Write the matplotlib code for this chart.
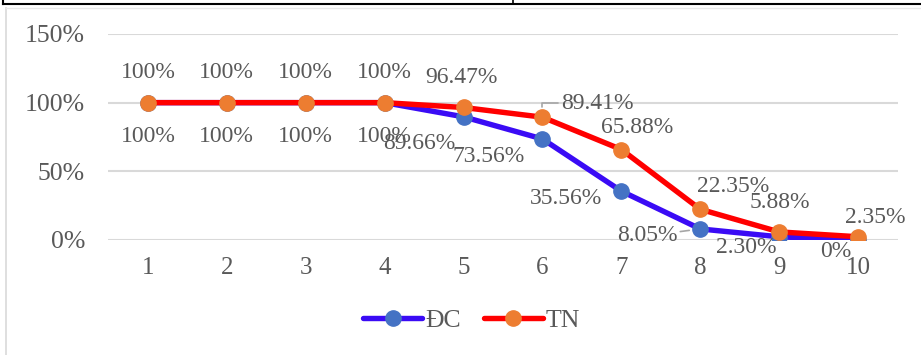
import matplotlib
matplotlib.use("Agg")
import matplotlib.pyplot as plt
from matplotlib.lines import Line2D

# data
lessons = [1, 2, 3, 4, 5, 6, 7, 8, 9, 10]
dc_vals = [100, 100, 100, 100, 89.66, 73.56, 35.56, 8.05, 2.30, 0]
tn_vals = [100, 100, 100, 100, 96.47, 89.41, 65.88, 22.35, 5.88, 2.35]
dc_labels = ["100%", "100%", "100%", "100%", "89.66%", "73.56%", "35.56%", "8.05%", "2.30%", "0%"]
tn_labels = ["100%", "100%", "100%", "100%", "96.47%", "89.41%", "65.88%", "22.35%", "5.88%", "2.35%"]
y_ticks = [0, 50, 100, 150]

# label offsets in pixels (x, y up)
dc_off = [(0, -34)] * 4 + [(-44, -27), (-54, -18), (-55, -7), (-53, -7), (-33, -11), (-22, -12)]
tn_off = [(0, 30)] * 4 + [(-2, 30), (55, 14), (16, 22), (33, 23), (1, 29), (17, 19)]

grey = "#595959"
plt.rcParams["font.family"] = ["Liberation Serif", "DejaVu Serif"]

fig = plt.figure(figsize=(9.21, 3.55), dpi=100)
ax = fig.add_axes([0.1178, 0.324, 0.8567, 0.5803])

ax.plot(lessons, dc_vals, color="#3A0BF5", lw=3.9, marker="o", ms=11,
        mfc="#4472C4", mec="#4472C4", label="ĐC", zorder=3, solid_capstyle="round")
ax.plot(lessons, tn_vals, color="#FF0000", lw=3.9, marker="o", ms=11,
        mfc="#ED7D31", mec="#ED7D31", label="TN", zorder=4, solid_capstyle="round")

for i, x in enumerate(lessons):
    ap = None
    if i == 7:
        ap = dict(arrowstyle="-", color="#a6a6a6", lw=1.2, shrinkA=0, shrinkB=8)
    ax.annotate(dc_labels[i], (x, dc_vals[i]), xytext=dc_off[i], textcoords="offset pixels",
                ha="center", va="center", fontsize=17, color=grey, arrowprops=ap, zorder=5)
for i, x in enumerate(lessons):
    ap = None
    if i == 5:
        ap = dict(arrowstyle="-", color="#a6a6a6", lw=1.2, shrinkA=0, shrinkB=7,
                  connectionstyle="angle,angleA=0,angleB=90,rad=0")
    ax.annotate(tn_labels[i], (x, tn_vals[i]), xytext=tn_off[i], textcoords="offset pixels",
                ha="center", va="center", fontsize=17, color=grey, arrowprops=ap, zorder=5)

ax.set_xlim(0.5, 10.5)
ax.set_ylim(0, 150)
ax.set_xticks(lessons)
ax.set_xticklabels([str(v) for v in lessons])
ax.set_yticks(y_ticks)
ax.set_yticklabels([f"{v}%" for v in y_ticks])
ax.tick_params(axis="y", length=0, pad=17, labelsize=18.5, labelcolor=grey)
ax.tick_params(axis="x", length=0, pad=12, labelsize=18, labelcolor=grey)
ax.grid(axis="y", color="#d9d9d9", lw=1.5)
ax.set_axisbelow(True)
for s in ax.spines.values():
    s.set_visible(False)

leg = fig.legend(loc="center", bbox_to_anchor=(0.512, 0.098), ncol=2, frameon=False,
                 fontsize=18.5, handlelength=2.3, handletextpad=0.1, columnspacing=0.9)
for t in leg.get_texts():
    t.set_color(grey)

# page / frame remnants around the chart
W, H = 921, 355
fig.add_artist(Line2D([3 / W, 1], [1 - 4 / H, 1 - 4 / H], color="black", lw=1.5))
fig.add_artist(Line2D([3 / W, 3 / W], [1, 1 - 4 / H], color="black", lw=1.5))
fig.add_artist(Line2D([513 / W, 513 / W], [1, 1 - 4 / H], color="black", lw=1.2))
fig.add_artist(Line2D([6 / W, 6 / W], [1 - 8 / H, 0], color="#d9d9d9", lw=1.2))
fig.add_artist(Line2D([6 / W, 1], [1 - 8 / H, 1 - 8 / H], color="#e8e8e8", lw=1.0))

fig.savefig("out.png", dpi=100)
